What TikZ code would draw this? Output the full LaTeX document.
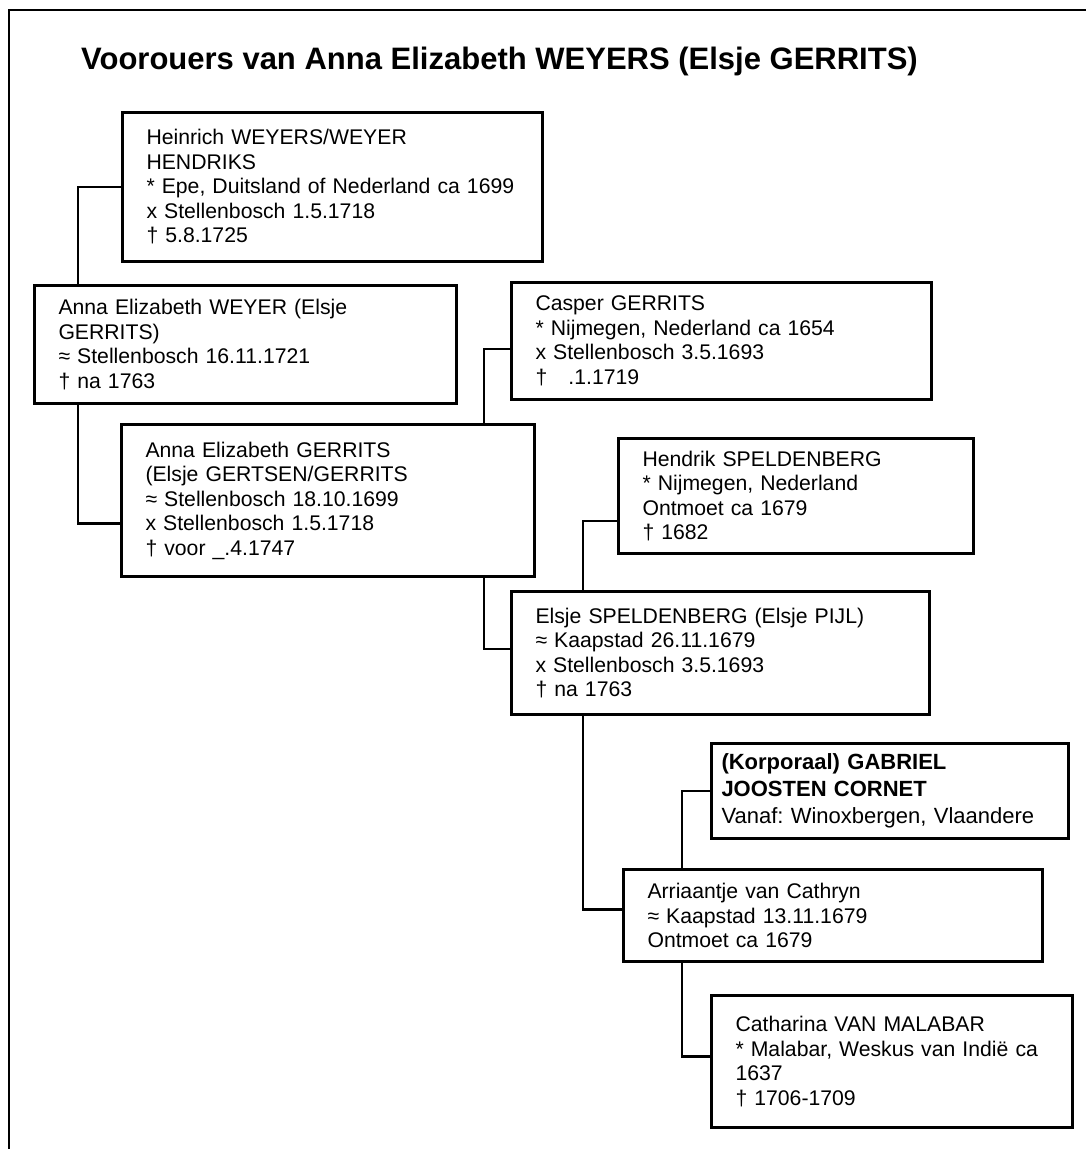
\documentclass[tikz,border=0pt]{standalone}
\usepackage{fontspec}
\setmainfont{Liberation Sans}
\usetikzlibrary{calc}

\def\pxl{0.5pt}

\begin{document}
\frenchspacing
\begin{tikzpicture}[x=\pxl, y=-\pxl, line width=1.2pt]
    \tikzstyle{persoon} = [draw, rectangle, line width=1.5pt, anchor=north west, inner xsep=12pt, inner ysep=0pt, align=left, font=\fontsize{10.6}{12.25}\selectfont]
    \tikzset{maat/.style 2 args={minimum width=#1*\pxl, minimum height=#2*\pxl, text width=#1*\pxl-24pt}}
    \tikzstyle{titel} = [anchor=base west, inner sep=0pt, font=\bfseries\fontsize{15.5}{19}\selectfont]
    \tikzstyle{raam} = [line width=1pt]

    \useasboundingbox (0,0) rectangle (1086,1149);

    %%% FRAME AND TITLE
    \draw[raam] (9,1149) -- (9,10) -- (1086,10);
    \node[titel] (titel) at (80,70) {Voorouers van Anna Elizabeth WEYERS (Elsje GERRITS)};

    %%% DRAW THE PERSONS
    \node[persoon, maat={420}{149}] (heinrich) at (121,111) {Heinrich WEYERS/WEYER\\HENDRIKS\\{*} Epe, Duitsland of Nederland ca 1699\\x Stellenbosch 1.5.1718\\† 5.8.1725};
    \node[persoon, maat={422}{118}] (aew) at (33,284) {Anna Elizabeth WEYER (Elsje\\GERRITS)\\≈ Stellenbosch 16.11.1721\\† na 1763};
    \node[persoon, maat={413}{152}] (aeg) at (120,423) {Anna Elizabeth GERRITS\\(Elsje GERTSEN/GERRITS\\≈ Stellenbosch 18.10.1699\\x Stellenbosch 1.5.1718\\† voor \_.4.1747};
    \node[persoon, maat={420}{117}] (casper) at (510,281) {Casper GERRITS\\{*} Nijmegen, Nederland ca 1654\\x Stellenbosch 3.5.1693\\†\ \ \ .1.1719};
    \node[persoon, maat={355}{115}] (hendrik) at (617,437) {Hendrik SPELDENBERG\\{*} Nijmegen, Nederland\\Ontmoet ca 1679\\† 1682};
    \node[persoon, maat={418}{123}] (elsje) at (510,590) {Elsje SPELDENBERG (Elsje PIJL)\\≈ Kaapstad 26.11.1679\\x Stellenbosch 3.5.1693\\† na 1763};
    \node[persoon, maat={357}{95}, inner xsep=5pt, text width=357*\pxl-10pt, font=\fontsize{11}{13.5}\selectfont] (gabriel) at (710,742) {\textbf{(Korporaal) GABRIEL}\\\textbf{JOOSTEN CORNET}\\Vanaf: Winoxbergen, Vlaandere};
    \node[persoon, maat={419}{92}] (arriaantje) at (622,868) {Arriaantje van Cathryn\\≈ Kaapstad 13.11.1679\\Ontmoet ca 1679};
    \node[persoon, maat={361}{132}] (catharina) at (710,994) {Catharina VAN MALABAR\\{*} Malabar, Weskus van Indië ca\\1637\\† 1706-1709};

    %%% DRAW THE LINES
    \coordinate (v1) at (78,0);
    \coordinate (v2) at (484,0);
    \coordinate (v3) at (583,0);
    \coordinate (v4) at (682,0);

    \draw (heinrich.west) -| (v1 |- aew.north);
    \draw (v1 |- aew.south) |- ($(aeg.west)+(0,23)$);
    \draw ($(casper.west)+(0,8)$) -| (v2 |- aeg.north);
    \draw (v2 |- aeg.south) |- ($(elsje.west)+(0,-4)$);
    \draw ($(hendrik.west)+(0,25)$) -| (v3 |- elsje.north);
    \draw (v3 |- elsje.south) |- ($(arriaantje.west)+(0,-6)$);
    \draw (gabriel.west) -| (v4 |- arriaantje.north);
    \draw (v4 |- arriaantje.south) |- ($(catharina.west)+(0,-5)$);

\end{tikzpicture}
\end{document}
